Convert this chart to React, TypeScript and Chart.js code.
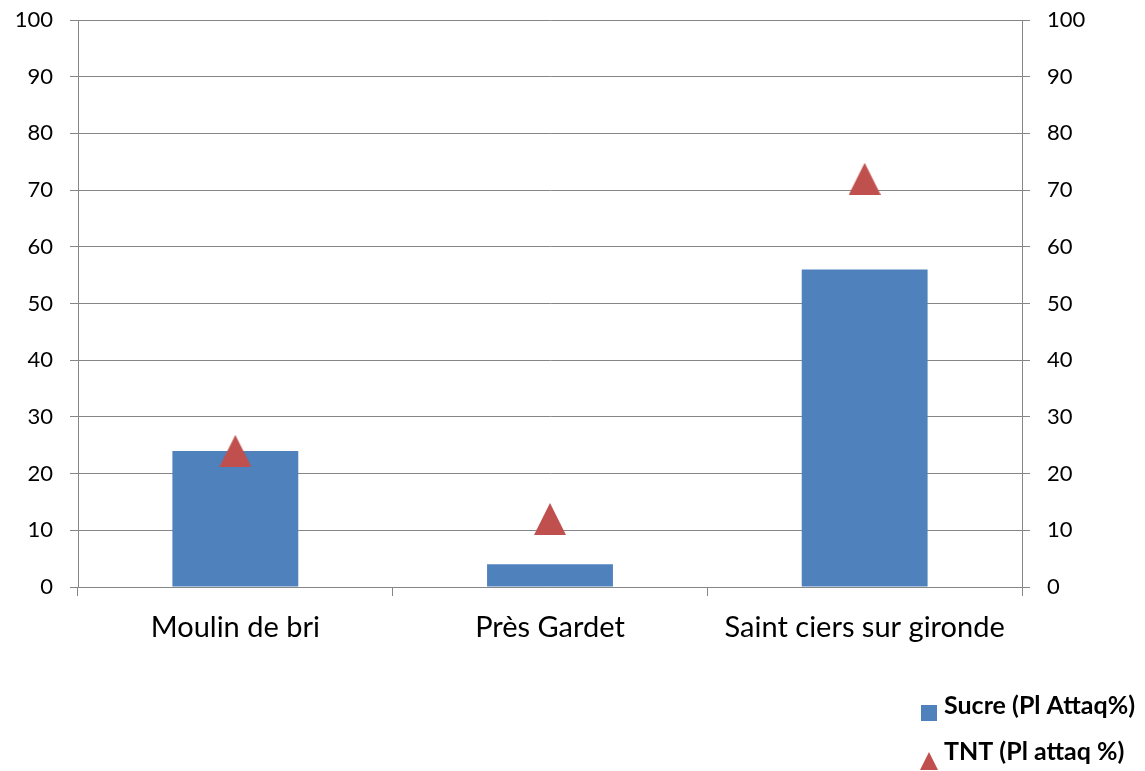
import React, { useEffect, useRef } from "react";
import { Chart, registerables } from "chart.js";

Chart.register(...registerables);

const categories = ["Moulin de bri", "Près Gardet", "Saint ciers sur gironde"];
const sucreValues = [24, 4, 56];
const tntValues = [24, 12, 72];
const seriesNames = ["Sucre (Pl Attaq%)", "TNT (Pl attaq %)"];
const yTicks = [0, 10, 20, 30, 40, 50, 60, 70, 80, 90, 100];

const BLUE = "#4F81BD";
const RED = "#C0504D";
const GRID = "#868686";
const FONT = "Lato, 'Open Sans', sans-serif";

function makeTriangle(size: number, color: string) {
  const c = document.createElement("canvas");
  c.width = size;
  c.height = size;
  const ctx = c.getContext("2d")!;
  ctx.fillStyle = color;
  ctx.beginPath();
  ctx.moveTo(size / 2, 0);
  ctx.lineTo(size, size);
  ctx.lineTo(0, size);
  ctx.closePath();
  ctx.fill();
  return c;
}

export default function App() {
  const ref = useRef<HTMLCanvasElement | null>(null);

  useEffect(() => {
    document.body.style.margin = "0";
    const canvas = ref.current!;
    const tri = makeTriangle(32, RED);
    const legendTri = makeTriangle(18, RED);

    const legendPlugin = {
      id: "customLegend",
      afterDraw(chart: any) {
        const ctx = chart.ctx;
        ctx.save();
        ctx.font = `bold 25px ${FONT}`;
        ctx.textBaseline = "middle";
        ctx.textAlign = "left";
        ctx.fillStyle = BLUE;
        ctx.fillRect(921, 705, 16, 16);
        ctx.fillStyle = "#000";
        ctx.fillText(seriesNames[0], 944, 706);
        ctx.drawImage(legendTri, 920, 752, 18, 18);
        ctx.fillText(seriesNames[1], 944, 752);
        ctx.restore();
      },
    };

    const fitY = (w: number) => (scale: any) => {
      scale.width = w;
      scale.paddingTop = 0;
      scale.paddingBottom = 0;
    };

    const chart = new Chart(canvas, {
      type: "bar",
      data: {
        labels: categories,
        datasets: [
          {
            type: "bar",
            label: seriesNames[0],
            data: sucreValues,
            backgroundColor: BLUE,
            barPercentage: 0.4,
            categoryPercentage: 1,
            yAxisID: "y",
            order: 2,
          },
          {
            type: "line",
            label: seriesNames[1],
            data: tntValues,
            showLine: false,
            pointStyle: tri as any,
            pointRadius: 16,
            backgroundColor: RED,
            borderColor: RED,
            yAxisID: "y",
            order: 1,
          } as any,
        ],
      },
      options: {
        responsive: false,
        animation: false,
        layout: { padding: { top: 20, bottom: 0, left: 0, right: 0 } },
        plugins: { legend: { display: false }, tooltip: { enabled: false } },
        scales: {
          x: {
            offset: true,
            grid: {
              offset: true,
              drawOnChartArea: false,
              drawTicks: true,
              tickLength: 9,
              color: GRID,
            },
            border: { color: GRID, width: 1 },
            ticks: {
              font: { family: FONT, size: 29 },
              color: "#000",
              padding: 14,
              maxRotation: 0,
            },
            afterFit(scale: any) {
              scale.height = 184;
              scale.paddingLeft = 0;
              scale.paddingRight = 0;
            },
          },
          y: {
            position: "left",
            min: 0,
            max: 100,
            afterBuildTicks(scale: any) {
              scale.ticks = yTicks.map((v) => ({ value: v }));
            },
            grid: { color: GRID, tickLength: 8, drawTicks: true },
            border: { color: GRID, width: 1 },
            ticks: {
              font: { family: FONT, size: 22 },
              color: "#000",
              padding: 17,
            },
            afterFit: fitY(78),
          },
          y2: {
            position: "right",
            min: 0,
            max: 100,
            afterBuildTicks(scale: any) {
              scale.ticks = yTicks.map((v) => ({ value: v }));
            },
            grid: { color: GRID, tickLength: 8, drawTicks: true, drawOnChartArea: false },
            border: { color: GRID, width: 1 },
            ticks: {
              font: { family: FONT, size: 22 },
              color: "#000",
              padding: 17,
            },
            afterFit: fitY(123),
          },
        },
      },
      plugins: [legendPlugin],
    });
    return () => chart.destroy();
  }, []);

  return <canvas ref={ref} width={1145} height={771} style={{ display: "block" }} />;
}
